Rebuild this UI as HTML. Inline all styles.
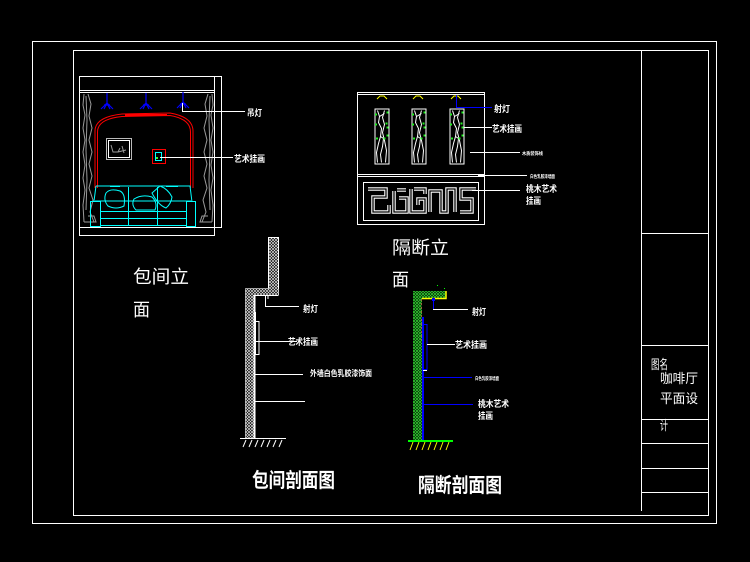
<!DOCTYPE html>
<html><head><meta charset="utf-8"><style>
html,body{margin:0;padding:0;background:#000;}
svg{display:block;}
text{font-family:"Liberation Sans","Noto Sans CJK SC",sans-serif;fill:#fff;}
</style></head><body>
<svg width="750" height="562" viewBox="0 0 750 562" xmlns="http://www.w3.org/2000/svg">
<defs>
<pattern id="hw" width="3" height="3" patternUnits="userSpaceOnUse">
<rect width="3" height="3" fill="#000"/>
<path d="M0,3 L3,0 M0,0 L3,3" stroke="#ddd" stroke-width="0.7"/>
</pattern>
<pattern id="hg" width="3" height="3" patternUnits="userSpaceOnUse">
<rect width="3" height="3" fill="#000"/>
<path d="M0,3 L3,0 M0,0 L3,3" stroke="#2ecc2e" stroke-width="0.8"/>
</pattern>
<g id="panel">
<rect x="0.5" y="0.5" width="14" height="55" fill="none" stroke="#fff" stroke-width="1"/>
<polyline points="3,2 5,8 4,14 7,20 6,28 4,35 2,44 3,54" fill="none" stroke="#fff" stroke-width="1"/>
<polyline points="10,2 8,9 10,16 8,24 10,32 12,42 11,54" fill="none" stroke="#fff" stroke-width="1"/>
<polyline points="5,8 10,5 M7,20 11,17" fill="none" stroke="#fff" stroke-width="1"/>
<polyline points="6,28 9,30 8,38 6,46 7,54" fill="none" stroke="#fff" stroke-width="1"/>
<g fill="#22ee22">
<rect x="0.5" y="5" width="2" height="2"/><rect x="12" y="3" width="2" height="2"/>
<rect x="0.5" y="15" width="2" height="2"/><rect x="11" y="14" width="2" height="2"/>
<rect x="12" y="18" width="2" height="2"/><rect x="1.5" y="29" width="2" height="2"/>
<rect x="9" y="29" width="2" height="2"/><rect x="12" y="26" width="2" height="2"/>
</g>
</g>
<g id="pend">
<path d="M0,0 V10 M0,10 L-6,16 M0,10 L6,16 M-3,12 H3 M0,10 L-3,16 M0,10 L3,16" fill="none" stroke="#0000ff" stroke-width="1.2"/>
</g>
</defs>

<rect width="750" height="562" fill="#000"/>

<!-- frames -->
<rect x="32.5" y="41.5" width="684" height="482" fill="none" stroke="#fff" stroke-width="1"/>
<rect x="73.5" y="50.5" width="635" height="465" fill="none" stroke="#fff" stroke-width="1"/>
<line x1="641.5" y1="50" x2="641.5" y2="511" stroke="#fff"/>
<g stroke="#fff" stroke-width="1">
<line x1="642" y1="233.5" x2="708" y2="233.5"/>
<line x1="642" y1="345.5" x2="708" y2="345.5"/>
<line x1="642" y1="419.5" x2="708" y2="419.5"/>
<line x1="642" y1="443.5" x2="708" y2="443.5"/>
<line x1="642" y1="468.5" x2="708" y2="468.5"/>
<line x1="642" y1="492.5" x2="708" y2="492.5"/>
</g>
<text x="651" y="369" font-size="13" textLength="17" lengthAdjust="spacingAndGlyphs">图名</text>
<text x="660" y="383" font-size="13" textLength="38" lengthAdjust="spacingAndGlyphs">咖啡厅</text>
<text x="660" y="403" font-size="13" textLength="38" lengthAdjust="spacingAndGlyphs">平面设</text>
<text x="660" y="430" font-size="13" textLength="8" lengthAdjust="spacingAndGlyphs">计</text>

<!-- LEFT ELEVATION -->
<g stroke="#fff" stroke-width="1" fill="none">
<line x1="79.5" y1="76" x2="79.5" y2="236"/>
<line x1="79" y1="76.5" x2="222" y2="76.5"/>
<line x1="214.5" y1="76" x2="214.5" y2="236"/>
<line x1="221.5" y1="76" x2="221.5" y2="228"/>
<line x1="79" y1="227.5" x2="222" y2="227.5"/>
<line x1="79" y1="235.5" x2="215" y2="235.5"/>
<line x1="79" y1="90.5" x2="215" y2="90.5"/>
<line x1="79" y1="92.5" x2="215" y2="92.5"/>
</g>
<!-- curtains -->
<g stroke="#9a9a9a" stroke-width="1" fill="none">
<polyline points="84,94 83,105 85,115 83,128 85,140 83,152 85,165 83,178 85,190 83,205 84,222"/>
<polyline points="88,94 91,104 89,116 92,128 89,140 92,152 89,164 92,176 89,188 93,200 90,212 94,222"/>
<polyline points="86,96 87,120 86,150 87,180 86,210"/>
<polyline points="84,222 96,222 94,216 88,216"/>
<polyline points="212,94 213,105 211,115 213,128 211,140 213,152 211,165 213,178 211,190 213,205 212,222"/>
<polyline points="208,94 205,104 207,116 204,128 207,140 204,152 207,164 204,176 207,188 203,200 206,212 202,222"/>
<polyline points="210,96 209,120 210,150 209,180 210,210"/>
<polyline points="212,222 200,222 202,216 208,216"/>
</g>
<!-- pendant lamps -->
<use href="#pend" x="107" y="93"/>
<use href="#pend" x="146" y="93"/>
<use href="#pend" x="183" y="92"/>
<!-- red arch -->
<path d="M95,188 V131 Q95,117 122,114 L170,113 Q193,117 193,131 V188" fill="none" stroke="#ff0000" stroke-width="1"/>
<path d="M97.5,188 V132 Q97.5,119 122,116.5 L170,115.5 Q190.5,119 190.5,132 V188" fill="none" stroke="#ff0000" stroke-width="1"/>
<line x1="125" y1="115" x2="167" y2="115" stroke="#ff0000" stroke-width="2"/>
<!-- picture frame -->
<rect x="106.5" y="138.5" width="25" height="21" fill="none" stroke="#bbb" stroke-width="1"/>
<rect x="108.5" y="140.5" width="21" height="17" fill="none" stroke="#fff" stroke-width="1"/>
<path d="M111,145 L113,152 L118,152 L120,148 M118,152 L126,150 M122,146 L124,153" fill="none" stroke="#999" stroke-width="1"/>
<!-- small art -->
<rect x="152.5" y="149.5" width="13" height="14" fill="none" stroke="#ff0000" stroke-width="1"/>
<rect x="155.5" y="152.5" width="6" height="8" fill="none" stroke="#00ffff" stroke-width="1"/>
<rect x="156" y="157" width="2" height="2" fill="#33ff33"/>
<!-- leaders -->
<polyline points="182.5,103 182.5,111.5 245,111.5" fill="none" stroke="#fff" stroke-width="1"/>
<line x1="160" y1="157.5" x2="233" y2="157.5" stroke="#fff" stroke-width="1"/>
<text x="247" y="116" font-size="9" font-weight="bold" textLength="15" lengthAdjust="spacingAndGlyphs">吊灯</text>
<text x="234" y="162" font-size="9" font-weight="bold" textLength="31" lengthAdjust="spacingAndGlyphs">艺术挂画</text>
<!-- sofa -->
<g stroke="#00ffff" stroke-width="1" fill="none">
<path d="M96,186 H190 L192,202 M96,186 L94,201"/>
<path d="M95,201 H191"/>
<rect x="90.5" y="201.5" width="10" height="25"/>
<rect x="186.5" y="201.5" width="9" height="25"/>
<line x1="100" y1="211.5" x2="187" y2="211.5"/>
<line x1="100" y1="218.5" x2="187" y2="218.5"/>
<line x1="100" y1="225.5" x2="187" y2="225.5"/>
<line x1="128.5" y1="187" x2="128.5" y2="226"/>
<line x1="157.5" y1="187" x2="157.5" y2="226"/>
<path d="M106,193 Q110,188 120,191 Q126,194 124,206 Q116,210 108,206 Q103,200 106,193 Z"/>
<path d="M134,199 Q142,194 152,197 Q158,203 155,210 H136 Q131,205 134,199 Z"/>
<path d="M152,193 L160,186 Q168,189 172,197 Q171,204 166,208 Q158,205 152,193 Z"/>
<line x1="110" y1="186.5" x2="120" y2="186.5"/>
<line x1="166" y1="186.5" x2="178" y2="186.5"/>
</g>

<text x="133" y="283" font-size="18" textLength="56" lengthAdjust="spacingAndGlyphs">包间立</text>
<text x="133" y="316" font-size="18" textLength="17" lengthAdjust="spacingAndGlyphs">面</text>

<!-- RIGHT ELEVATION -->
<g stroke="#fff" stroke-width="1" fill="none">
<rect x="357.5" y="92.5" width="127" height="132"/>
<line x1="357" y1="94.5" x2="485" y2="94.5"/>
<line x1="357" y1="174.5" x2="485" y2="174.5"/>
<line x1="357" y1="176.5" x2="485" y2="176.5"/>
<rect x="363.5" y="182.5" width="115" height="38"/>
</g>
<!-- maze -->
<g fill="none" stroke="#fff" stroke-width="3.5" stroke-linejoin="miter">
<polyline points="368,189 386,189 386,197 373,197 373,212 389,212 389,205"/>
<polyline points="394,191 394,212 407,212 407,198 399,198"/>
<polyline points="397,190 406,190"/>
<polyline points="411,189 411,212 425,212 425,199 418,199 418,205"/>
<polyline points="414,189 425,189 425,194"/>
<polyline points="430,212 430,191 441,191 441,212 447,212 447,189 455,189 455,212"/>
<polyline points="460,212 472,212 472,199 461,199 461,189 476,189"/>
</g>
<g fill="none" stroke="#000" stroke-width="1.3">
<polyline points="368,189 386,189 386,197 373,197 373,212 389,212 389,205"/>
<polyline points="394,191 394,212 407,212 407,198 399,198"/>
<polyline points="397,190 406,190"/>
<polyline points="411,189 411,212 425,212 425,199 418,199 418,205"/>
<polyline points="414,189 425,189 425,194"/>
<polyline points="430,212 430,191 441,191 441,212 447,212 447,189 455,189 455,212"/>
<polyline points="460,212 472,212 472,199 461,199 461,189 476,189"/>
</g>
<!-- panels -->
<use href="#panel" x="374.5" y="108.5"/>
<use href="#panel" x="411.5" y="108.5"/>
<use href="#panel" x="449.5" y="108.5"/>
<!-- yellow spot lamps -->
<g fill="none" stroke="#ffff00" stroke-width="1">
<polyline points="377,99 380,96 384,96 387,99"/>
<polyline points="413,99 416,96 420,96 423,99"/>
<polyline points="451,99 454,96 458,96 461,99"/>
</g>
<polyline points="456.5,95 456.5,107.5 492,107.5" fill="none" stroke="#0000ff" stroke-width="1"/>
<line x1="464" y1="127.5" x2="492" y2="127.5" stroke="#fff"/>
<line x1="470" y1="152.5" x2="520" y2="152.5" stroke="#fff"/>
<line x1="478" y1="175.5" x2="527" y2="175.5" stroke="#fff"/>
<rect x="478" y="174" width="7" height="3" fill="#fff"/>
<line x1="472" y1="190.5" x2="520" y2="190.5" stroke="#fff"/>
<text x="494" y="112" font-size="9" font-weight="bold" textLength="16" lengthAdjust="spacingAndGlyphs">射灯</text>
<text x="492" y="132" font-size="9" font-weight="bold" textLength="30" lengthAdjust="spacingAndGlyphs">艺术挂画</text>
<text x="522" y="155" font-size="4.5" font-weight="bold" textLength="21" lengthAdjust="spacingAndGlyphs">木质装饰线</text>
<text x="530" y="178" font-size="4.5" font-weight="bold" textLength="25" lengthAdjust="spacingAndGlyphs">白色乳胶漆墙面</text>
<text x="526" y="192" font-size="9" font-weight="bold" textLength="31" lengthAdjust="spacingAndGlyphs">桃木艺术</text>
<text x="526" y="204" font-size="9" font-weight="bold" textLength="15" lengthAdjust="spacingAndGlyphs">挂画</text>

<text x="392" y="254" font-size="18" textLength="57" lengthAdjust="spacingAndGlyphs">隔断立</text>
<text x="392" y="286" font-size="18" textLength="17" lengthAdjust="spacingAndGlyphs">面</text>

<!-- LEFT SECTION -->
<rect x="268.5" y="237.5" width="10" height="57" fill="url(#hw)" stroke="#fff" stroke-width="1"/>
<rect x="245.5" y="288.5" width="33" height="7" fill="url(#hw)" stroke="none"/>
<rect x="245.5" y="288.5" width="8" height="150" fill="url(#hw)" stroke="none"/>
<polyline points="245.5,438 245.5,288.5 268.5,288.5" fill="none" stroke="#fff" stroke-width="0.6"/>
<line x1="278.5" y1="295.5" x2="254" y2="295.5" stroke="#fff" stroke-width="1"/>
<line x1="254.5" y1="295" x2="254.5" y2="438" stroke="#fff" stroke-width="2"/>
<line x1="255.5" y1="312" x2="255.5" y2="355" stroke="#fff" stroke-width="1"/>
<rect x="255.5" y="321.5" width="3.5" height="33" fill="none" stroke="#fff" stroke-width="1"/>
<polyline points="265.5,296 265.5,306.5 299,306.5" fill="none" stroke="#fff" stroke-width="1"/>
<line x1="268" y1="296" x2="268" y2="299" stroke="#fff"/>
<line x1="255" y1="341.5" x2="297" y2="341.5" stroke="#fff"/>
<line x1="255" y1="374.5" x2="303" y2="374.5" stroke="#fff"/>
<line x1="255" y1="401.5" x2="305" y2="401.5" stroke="#fff"/>
<line x1="240" y1="438.5" x2="286" y2="438.5" stroke="#fff" stroke-width="1"/>
<g stroke="#fff" stroke-width="1">
<line x1="246" y1="440" x2="243" y2="447"/><line x1="252" y1="440" x2="249" y2="447"/>
<line x1="258" y1="440" x2="255" y2="447"/><line x1="264" y1="440" x2="261" y2="447"/>
<line x1="270" y1="440" x2="267" y2="447"/><line x1="276" y1="440" x2="273" y2="447"/>
<line x1="282" y1="440" x2="279" y2="447"/>
</g>
<text x="303" y="312" font-size="9" font-weight="bold" textLength="15" lengthAdjust="spacingAndGlyphs">射灯</text>
<text x="288" y="345" font-size="9" font-weight="bold" textLength="30" lengthAdjust="spacingAndGlyphs">艺术挂画</text>
<text x="310" y="376" font-size="8" font-weight="bold" textLength="62" lengthAdjust="spacingAndGlyphs">外墙白色乳胶漆饰面</text>
<text x="252" y="487" font-size="20" font-weight="bold" textLength="83" lengthAdjust="spacingAndGlyphs">包间剖面图</text>

<!-- RIGHT SECTION -->
<rect x="413" y="291" width="9" height="150" fill="url(#hg)"/>
<rect x="413" y="291" width="33" height="7" fill="url(#hg)"/>
<polyline points="422,298.5 446,298.5 446,291" fill="none" stroke="#ffff00" stroke-width="1.5"/>
<line x1="421.5" y1="299" x2="421.5" y2="340" stroke="#9a6a3a" stroke-width="1" stroke-dasharray="2,2"/>
<line x1="423" y1="317" x2="423" y2="440" stroke="#0000ff" stroke-width="2"/>
<rect x="423.5" y="324.5" width="3.5" height="45" fill="none" stroke="#0000ff" stroke-width="1"/>
<line x1="423" y1="370.5" x2="427" y2="370.5" stroke="#fff"/>
<line x1="433.5" y1="298" x2="433.5" y2="309" stroke="#0000ff" stroke-width="1"/>
<rect x="432" y="298" width="3" height="3" fill="#0000ff"/>
<line x1="433" y1="309.5" x2="468" y2="309.5" stroke="#fff"/>
<line x1="427" y1="344.5" x2="455" y2="344.5" stroke="#fff"/>
<line x1="423" y1="377.5" x2="472" y2="377.5" stroke="#0000ff"/>
<line x1="423" y1="404.5" x2="473" y2="404.5" stroke="#0000ff"/>
<line x1="408" y1="441" x2="453" y2="441" stroke="#00ff00" stroke-width="2"/>
<g stroke="#ffff00" stroke-width="1">
<line x1="413" y1="442" x2="410" y2="450"/><line x1="419" y1="442" x2="416" y2="450"/>
<line x1="425" y1="442" x2="422" y2="450"/><line x1="431" y1="442" x2="428" y2="450"/>
<line x1="437" y1="442" x2="434" y2="450"/><line x1="443" y1="442" x2="440" y2="450"/>
<line x1="449" y1="442" x2="446" y2="450"/>
</g>
<rect x="437" y="285" width="1" height="1" fill="#00ff00"/>
<rect x="444" y="288" width="1" height="1" fill="#00ff00"/>
<text x="472" y="315" font-size="9" font-weight="bold" textLength="14" lengthAdjust="spacingAndGlyphs">射灯</text>
<text x="455" y="348" font-size="9" font-weight="bold" textLength="32" lengthAdjust="spacingAndGlyphs">艺术挂画</text>
<text x="475" y="380" font-size="4.5" font-weight="bold" textLength="24" lengthAdjust="spacingAndGlyphs">白色乳胶漆墙面</text>
<text x="478" y="407" font-size="9" font-weight="bold" textLength="31" lengthAdjust="spacingAndGlyphs">桃木艺术</text>
<text x="478" y="419" font-size="9" font-weight="bold" textLength="15" lengthAdjust="spacingAndGlyphs">挂画</text>
<text x="418" y="492" font-size="20" font-weight="bold" textLength="84" lengthAdjust="spacingAndGlyphs">隔断剖面图</text>
</svg>
</body></html>
